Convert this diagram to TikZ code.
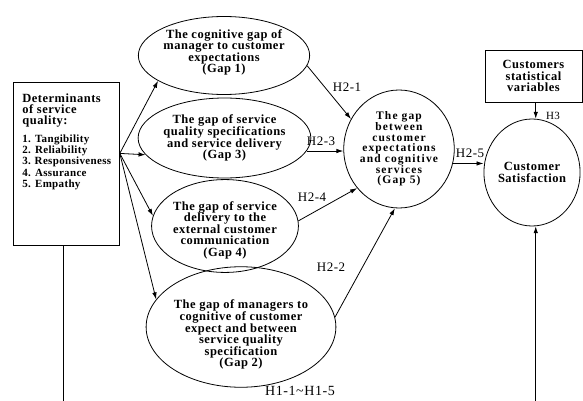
\documentclass[tikz,border=0pt]{standalone}
\usepackage{fontspec}
\setmainfont{Liberation Serif}
\newfontfamily\spacedserif[LetterSpace=4]{Liberation Serif}
\newfontfamily\widespaced[LetterSpace=10]{Liberation Serif}
\newfontfamily\lightspaced[LetterSpace=3]{Liberation Serif}
\usetikzlibrary{shapes.geometric,arrows.meta}
\newcommand\gapfont{\spacedserif\bfseries\fontsize{12.5}{11.5}\selectfont}
\newcommand\gapfivefont{\widespaced\bfseries\fontsize{11.5}{10.7}\selectfont}
\newcommand\detfont{\spacedserif\bfseries\fontsize{12.5}{11}\selectfont}
\newcommand\listfont{\lightspaced\bfseries\fontsize{11}{11.25}\selectfont}
\begin{document}
\begin{tikzpicture}[x=1pt,y=-1pt,
  gapnode/.style={draw, ellipse, inner sep=0pt, align=center, font=\gapfont, line width=0.8pt},
  boxnode/.style={draw, rectangle, inner sep=0pt, align=center, font=\gapfont, line width=0.8pt},
  hlabel/.style={font=\spacedserif\fontsize{13}{13}\selectfont, inner sep=0pt},
  conn/.style={line width=0.8pt, -{Latex[length=7pt,width=4.5pt]}},
  bareline/.style={line width=0.8pt}]
\useasboundingbox (0,0) rectangle (583,401);

% determinants box
\node[boxnode, anchor=north west, minimum width=106pt, minimum height=163pt] (det) at (13,82)
 {\parbox[c][163pt][t]{88pt}{\vspace*{11pt}{\detfont Determinants\\ of service\\ quality:\par}\vspace{7pt}{\listfont 1. Tangibility\\ 2. Reliability\\ 3. Responsiveness\\ 4. Assurance\\ 5. Empathy\par}}};
\coordinate (src) at ([yshift=10.5pt]det.east);

% gap ellipses
\node[gapnode, minimum width=170pt, minimum height=78pt] (gap1) at (224,55.5)
 {The cognitive gap of\\ manager to customer\\ expectations\\ (Gap 1)\rule[-8.6pt]{0pt}{8.6pt}};
\node[gapnode, minimum width=148pt, minimum height=80pt] (gap3) at (224.5,138)
 {The gap of service\\ quality specifications\\ and service delivery\\ (Gap 3)};
\node[gapnode, minimum width=132pt, minimum height=86pt] (gap4) at (225,226)
 {\rule{0pt}{17pt}The gap of service\\ delivery to the\\ external customer\\ communication\\ (Gap 4)};
\node[gapnode, minimum width=162pt, minimum height=109pt] (gap2) at (241,327)
 {\rule{0pt}{24pt}The gap of managers to\\ cognitive of customer\\ expect and between\\ service quality\\ specification\\ (Gap 2)};
\node[gapnode, minimum width=104pt, minimum height=118pt, font=\gapfivefont] (gap5) at (399,149)
 {The gap\\ between\\ customer\\ expectations\\ and cognitive\\ services\\ (Gap 5)};
\node[gapnode, minimum width=90pt, minimum height=107pt] (cs) at (532,172.5)
 {Customer\\ Satisfaction};
\node[boxnode, minimum width=97pt, minimum height=52pt] (stat) at (533.5,76)
 {Customers\\ statistical\\ variables};

% connectors
\draw[conn] (src) -- (gap1.201);
\draw[conn] (src) -- (gap3.192);
\draw[conn] (src) -- (gap4.172);
\draw[conn] (src) -- (gap2.162);
\draw[conn] (gap1.353) -- (gap5.148);
\draw[conn] (gap3.351) -- (gap3.351 -| gap5.west);
\draw[conn] (gap4.4) -- (gap5.223);
\draw[conn] (gap2.6) -- (gap5.266);
\draw[conn] (gap5.345) -- (gap5.345 -| cs.west);
\draw[conn] (cs.86 |- stat.south) -- (cs.86);
\coordinate (bot) at (0,401);
\draw[bareline] ([xshift=-3pt]det.south) -- ([xshift=-3pt]det.south |- bot);
\draw[conn] (cs.274 |- bot) -- (cs.274);

% labels
\node[hlabel] (l21) at (347,87) {H2-1};
\node[hlabel] (l23) at (321,141.5) {H2-3};
\node[hlabel] (l24) at (312,197) {H2-4};
\node[hlabel] (l22) at (331,267) {H2-2};
\node[hlabel] (l25) at (470,153) {H2-5};
\node[hlabel, font=\spacedserif\fontsize{11}{11}\selectfont] (l3) at (553,116) {H3};
\node[hlabel, font=\spacedserif\fontsize{14}{14}\selectfont] (l1) at (300,391) {H1-1\textasciitilde H1-5};
\end{tikzpicture}
\end{document}
